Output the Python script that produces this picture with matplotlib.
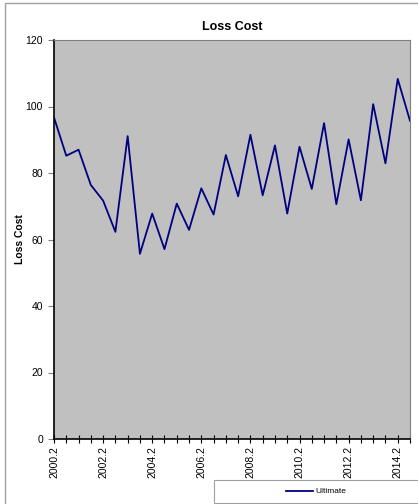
import matplotlib.pyplot as plt
from matplotlib.patches import Rectangle

# half-year periods 2000.2 .. 2014.7
periods = ['2000.2', '2000.7', '2001.2', '2001.7', '2002.2', '2002.7', '2003.2', '2003.7',
           '2004.2', '2004.7', '2005.2', '2005.7', '2006.2', '2006.7', '2007.2', '2007.7',
           '2008.2', '2008.7', '2009.2', '2009.7', '2010.2', '2010.7', '2011.2', '2011.7',
           '2012.2', '2012.7', '2013.2', '2013.7', '2014.2', '2014.7']
ultimate = [96.7, 85.2, 87.0, 76.4, 71.7, 62.3, 91.1, 55.7, 67.8, 57.1,
            70.8, 62.9, 75.4, 67.5, 85.4, 73.0, 91.5, 73.3, 88.3, 67.8,
            87.9, 75.2, 95.0, 70.6, 90.1, 71.8, 100.7, 82.9, 108.3, 95.7]
y_ticks = [0, 20, 40, 60, 80, 100, 120]

plt.rcParams['font.family'] = ['Liberation Sans', 'DejaVu Sans']

fig = plt.figure(figsize=(4.18, 5.04), dpi=100)
W, H = 418, 504

# outer chart border
fig.patches.append(Rectangle((5 / W, -0.1), 1.2, 1.1 - 3 / H, transform=fig.transFigure,
                             fill=False, edgecolor='#a0a0a0', linewidth=1.0))

ax = fig.add_axes([54 / W, 65 / H, 356 / W, 399 / H])
ax.set_facecolor('#c0c0c0')

x = list(range(len(periods)))
ax.plot(x, ultimate, color='#000080', linewidth=1.3, label='Ultimate')

ax.set_xlim(0, len(periods) - 1)
ax.set_ylim(0, 120)
ax.set_yticks(y_ticks)
ax.set_xticks(x)
ax.set_xticklabels([p if i % 4 == 0 else '' for i, p in enumerate(periods)], rotation=90)

ax.tick_params(axis='x', direction='inout', length=6, width=0.8, color='black',
               labelsize=7.5, pad=2)
ax.tick_params(axis='y', direction='out', length=4, width=0.8, color='#808080',
               labelsize=7.5, pad=4)

for side in ['left', 'bottom']:
    ax.spines[side].set_color('black')
    ax.spines[side].set_linewidth(1.2)
for side in ['top', 'right']:
    ax.spines[side].set_color('#808080')
    ax.spines[side].set_linewidth(0.8)

ax.set_title('Loss Cost', fontsize=9, fontweight='bold', pad=7)
ax.set_ylabel('Loss Cost', fontsize=7.5, fontweight='bold')
ax.yaxis.set_label_coords(-29 / 356, 0.5)

# legend box at the bottom right
fig.patches.append(Rectangle((214 / W, 1 / H), 210 / W, 23 / H, transform=fig.transFigure,
                             fill=True, facecolor='white', edgecolor='#a0a0a0', linewidth=0.8))
fig.legend(loc='center', bbox_to_anchor=(316 / W, 12.5 / H), frameon=False,
           fontsize=6, handlelength=3.2, handletextpad=0.3)

plt.savefig('out.png', dpi=100)
plt.close()
